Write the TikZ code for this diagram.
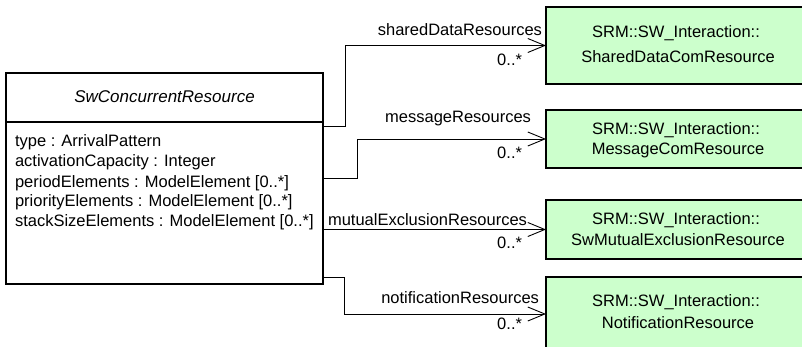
\documentclass[tikz,border=0pt]{standalone}
\usepackage{fontspec}
\setmainfont{Liberation Sans}
\usetikzlibrary{arrows.meta}
\definecolor{boxgreen}{HTML}{CCFFCC}
\begin{document}
\begin{tikzpicture}[x=1pt,y=-1pt,
  every node/.style={inner sep=0pt,outer sep=0pt},
  txt/.style={font=\fontsize{16.5}{19}\selectfont},
  lbl/.style={font=\fontsize{16.5}{19}\selectfont},
  classbox/.style={draw=black,line width=1.2pt,fill=white,minimum width=317pt,minimum height=211pt},
  greenbox/.style={draw=black,line width=1.2pt,fill=boxgreen,minimum width=264pt},
  assoc/.style={draw=black,line width=0.9pt,-{Straight Barb[length=17pt,width=14pt,line width=0.9pt]}}
]
\useasboundingbox (0,0) rectangle (802,347);
\clip (0,0) rectangle (802,347);
% class
\node[classbox,anchor=north west] (cls) at (6,73) {};
\coordinate (sepL) at (6,122);
\coordinate (sepR) at (323,122);
\draw[line width=1.2pt] (sepL) -- (sepR);
\node[font=\fontsize{17}{19}\selectfont\itshape] (title) at (164.5,97) {SwConcurrentResource};
\node[txt,anchor=west] (a1) at (15,142) {type : ArrivalPattern};
\node[txt,anchor=west] (a2) at (15,162) {activationCapacity : Integer};
\node[txt,anchor=west] (a3) at (15,183) {periodElements : ModelElement [0..*]};
\node[txt,anchor=west] (a4) at (15,202) {priorityElements : ModelElement [0..*]};
\node[txt,anchor=west] (a5) at (15,222) {stackSizeElements : ModelElement [0..*]};
% green boxes
\node[greenbox,minimum height=77pt] (g1) at (678,45.5) {};
\node[greenbox,minimum height=58pt] (g2) at (678,139) {};
\node[greenbox,minimum height=59pt] (g3) at (678,229.5) {};
\node[greenbox,minimum height=74pt] (g4) at (678,314) {};
\node[txt] (g1a) at (676,33) {SRM::SW\_Interaction::};
\node[txt] (g1b) at (678,57) {SharedDataComResource};
\node[txt] (g2a) at (676,130) {SRM::SW\_Interaction::};
\node[txt] (g2b) at (678,150) {MessageComResource};
\node[txt] (g3a) at (676,220) {SRM::SW\_Interaction::};
\node[txt] (g3b) at (678,240) {SwMutualExclusionResource};
\node[txt] (g4a) at (676,302) {SRM::SW\_Interaction::};
\node[txt] (g4b) at (678,323) {NotificationResource};
% connectors
\draw[assoc] ([yshift=-53pt]cls.north east) -- ++(22,0) |- (g1.west);
\draw[assoc] ([yshift=-105pt]cls.north east) -- ++(34,0) |- (g2.west);
\draw[assoc] (cls.east |- g3.west) -- (g3.west);
\draw[assoc] ([yshift=-204pt]cls.north east) -- ++(21,0) |- (g4.west);
% labels
\node[lbl,anchor=east] (l1) at (542,30) {sharedDataResources};
\node[lbl,anchor=east] (m1) at (522,60) {0..*};
\node[lbl,anchor=east] (l2) at (531,119) {messageResources};
\node[lbl,anchor=east] (m2) at (522,153) {0..*};
\node[lbl,anchor=west] (l3) at (328,220) {mutualExclusionResources};
\node[lbl,anchor=east] (m3) at (522,243) {0..*};
\node[lbl,anchor=east] (l4) at (539,298) {notificationResources};
\node[lbl,anchor=east] (m4) at (522,324) {0..*};
\end{tikzpicture}
\end{document}
